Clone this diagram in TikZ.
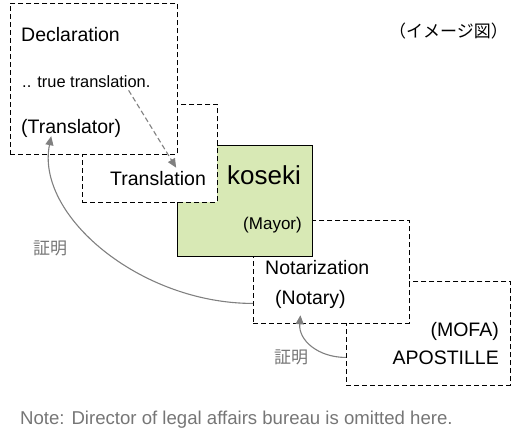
\documentclass[tikz,border=0pt]{standalone}
\usepackage{fontspec}
\setmainfont{Liberation Sans}
\newfontfamily\jpfont{Noto Sans CJK JP}
\usetikzlibrary{arrows.meta}

\definecolor{kosekigreen}{RGB}{216,233,181}
\definecolor{linkgray}{RGB}{128,128,128}
\definecolor{notegray}{RGB}{118,118,118}

\begin{document}
\begin{tikzpicture}[
    x=1pt, y=-1pt,
    paper/.style={rectangle, draw, dash pattern=on 5pt off 3pt,
                  line width=0.9pt, fill=white, inner sep=0pt,
                  anchor=north west},
    original/.style={rectangle, draw, line width=0.9pt, fill=kosekigreen,
                     inner sep=0pt, anchor=north west},
    txt/.style={inner sep=0pt, anchor=base west,
                font=\fontsize{19.5}{22}\selectfont},
    rtxt/.style={txt, anchor=base east},
    small/.style={inner sep=0pt, anchor=base west,
                  font=\fontsize{16.4}{18}\selectfont},
    jp/.style={inner sep=0pt, text=notegray,
               font=\jpfont\fontsize{17}{19}\selectfont},
    link/.style={draw=linkgray, line width=1.1pt,
                 -{Triangle[length=9pt, width=8pt]}}
]
  \useasboundingbox (0,0) rectangle (520,435);

  % sheets, back to front
  \node[paper, minimum width=164pt, minimum height=104pt] (apost) at (346,281) {};
  \node[paper, minimum width=156pt, minimum height=103pt] (notar) at (253,220) {};
  \node[original, minimum width=135pt, minimum height=111pt] (koseki) at (177,145) {};
  \node[paper, minimum width=135pt, minimum height=98pt] (transl) at (82,104) {};
  \node[paper, minimum width=167pt, minimum height=151pt] (decl) at (10,3) {};

  % texts
  \node[txt] (declaration) at (21,42) {Declaration};
  \node[small] (truetr) at (22,88) {.. true translation.};
  \node[txt] (translator) at (21,134) {(Translator)};
  \node[txt] (translation) at (110,186) {Translation};
  \node[txt, font=\fontsize{26}{28}\selectfont] (kosekitxt) at (227,185) {koseki};
  \node[rtxt, font=\fontsize{17}{19}\selectfont] (mayor) at (302,230) {(Mayor)};
  \node[txt] (notarization) at (265,275) {Notarization};
  \node[txt] (notary) at (275,305) {(Notary)};
  \node[rtxt] (mofa) at (499,337) {(MOFA)};
  \node[rtxt] (apostille) at (499,365) {APOSTILLE};
  \node[inner sep=0pt, anchor=base west, font=\jpfont\fontsize{17}{19}\selectfont]
    (image) at (389,38) {（イメージ図）};
  \node[jp] (cert1) at (50,248) {証明};
  \node[jp] (cert2) at (291,357) {証明};
  \node[inner sep=0pt, anchor=base west, text=notegray,
        font=\fontsize{18.6}{21}\selectfont] (note) at (20,425)
    {Note: Director of legal affairs bureau is omitted here.};

  % arrows
  \draw[link, dash pattern=on 5pt off 3pt] ([xshift=-22pt, yshift=-2pt]truetr.south east)
    -- ([xshift=-30pt, yshift=4pt]translation.north east);
  \draw[link] ([yshift=-31.5pt]notar.west) .. controls +(-113,0) and +(-16,79)
    .. ([xshift=-20pt, yshift=2pt]translator.south);
  \draw[link] ([yshift=-24pt]apost.west) .. controls +(-28,0) and +(-2,25)
    .. ([xshift=-10pt, yshift=-6pt]notary.south);
\end{tikzpicture}
\end{document}
